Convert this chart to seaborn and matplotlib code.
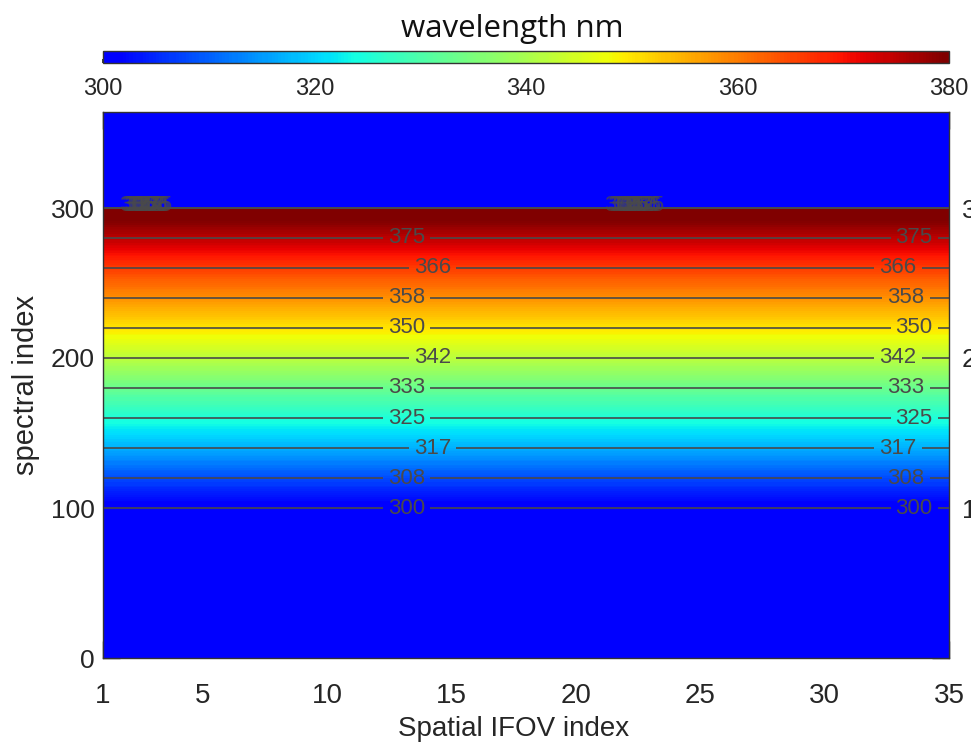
import numpy as np
import matplotlib
matplotlib.use("Agg")
import matplotlib.pyplot as plt
from matplotlib.colors import ListedColormap, Normalize
from matplotlib.cm import ScalarMappable
from matplotlib.ticker import FixedLocator, MultipleLocator
import seaborn as sns

# Spectral rows carrying a labelled isoline and the wavelength (nm) on each
contour_rows = [100, 120, 140, 160, 180, 200, 220, 240, 260, 280]
contour_wl = [300, 308, 317, 325, 333, 342, 350, 358, 366, 375]
band_top_row = 300      # last illuminated spectral row
band_top_wl = 383       # wavelength at the top of the band
no_signal = 0           # value outside the illuminated band
n_ifov = 35
spec_top = 364

x_ticks = [1, 5, 10, 15, 20, 25, 30, 35]
y_ticks = [0, 100, 200, 300]
cbar_ticks = [300, 320, 340, 360, 380]
cbar_minor = [310, 330, 350, 370]
wl_min, wl_max = 300, 380

sns.set_theme(style="ticks")
plt.rcParams["font.family"] = ["Liberation Sans", "DejaVu Sans"]
plt.rcParams["axes.linewidth"] = 1.0

# Wavelength map: spatial IFOV x spectral index
ifov = np.arange(1, n_ifov + 1)
rows = np.array([0] + contour_rows + [band_top_row, band_top_row, spec_top], float)
vals = np.array([no_signal] + contour_wl + [band_top_wl, no_signal, no_signal], float)
X, Y = np.meshgrid(ifov, rows)
Z = np.tile(vals[:, None], (1, n_ifov))

jet = plt.get_cmap("jet")
cmap = ListedColormap(jet(np.linspace(0.11, 1.0, 256)), name="rainbow_blue")
cmap.set_under(cmap(0.0))
cmap.set_over(cmap(1.0))

fig = plt.figure(figsize=(9.71, 7.47), dpi=100)
ax = fig.add_axes([103 / 971, 89 / 747, 846 / 971, 546 / 747])
cax = fig.add_axes([103 / 971, 684 / 747, 846 / 971, 12 / 747])

ax.contourf(X, Y, Z, levels=np.linspace(wl_min, wl_max, 161), cmap=cmap,
            extend="both")
line_gray = "#4a4a4a"

# isoline label columns: middle of the field and near the right edge
mid_x = [13.2, 13.2, 14.25, 13.2, 13.2, 14.25, 13.2, 13.2, 14.25, 13.2]
right_x = [33.6, 33.27, 32.95, 33.6, 33.27, 32.95, 33.6, 33.27, 32.95, 33.6]
for i, (lev, row) in enumerate(zip(contour_wl, contour_rows)):
    cs = ax.contour(X, Y, Z, levels=[lev], colors=line_gray, linewidths=1.2)
    cs.clabel(fmt="%d", fontsize=16, inline=True, inline_spacing=5,
              manual=[(mid_x[i], row), (right_x[i], row)])
    # labels crowded on the sharp upper edge of the band
    tops = cs.clabel(fmt="%d", fontsize=16, inline=False,
                     manual=[(2.4 + 0.07 * i, band_top_row),
                             (21.9 + 0.1 * i, band_top_row)])
    for t in cs.labelTexts[-2:]:
        t.set_alpha(0.75)
        t.set_y(t.get_position()[1] + 1.5)

ax.set_xlim(1, 35)
ax.set_ylim(0, spec_top)
ax.xaxis.set_major_locator(FixedLocator(x_ticks))
ax.xaxis.set_minor_locator(MultipleLocator(2.5))
ax.yaxis.set_major_locator(FixedLocator(y_ticks))
ax.yaxis.set_minor_locator(MultipleLocator(10))
ax.tick_params(which="both", direction="in", top=True, right=True,
               color="#222222", width=1.0)
ax.tick_params(which="major", length=12)
ax.tick_params(which="minor", length=7)
ax.tick_params(axis="x", which="major", labelsize=20, pad=18)
ax.tick_params(axis="y", which="major", labelsize=19, pad=6)
for sp in ax.spines.values():
    sp.set_color("#333333")

ax.set_xlabel("Spatial IFOV index", fontsize=20)
ax.xaxis.set_label_coords(0.485, -0.106)
ax.xaxis.label.set_verticalalignment("top")
ax.set_ylabel("spectral index", fontsize=21)
ax.yaxis.set_label_coords(-0.075, 0.5)

# right-hand spectral tick labels
sec = ax.secondary_yaxis("right")
sec.set_yticks(y_ticks[1:])
sec.tick_params(length=0, pad=9, labelsize=19)
sec.spines["right"].set_visible(False)

# colour bar across the top
cb = fig.colorbar(ScalarMappable(norm=Normalize(wl_min, wl_max), cmap=cmap),
                  cax=cax, orientation="horizontal")
cb.set_ticks(cbar_ticks)
cax.xaxis.set_minor_locator(FixedLocator(cbar_minor))
cax.tick_params(which="both", direction="in", length=3, color="#222222",
                labelsize=17, pad=11, bottom=True, top=False)
cb.outline.set_edgecolor("#333333")
cb.outline.set_linewidth(1.0)

fig.text(512 / 971, 710 / 747, "wavelength nm", ha="center", va="baseline",
         fontsize=22.5, family=["Open Sans", "DejaVu Sans"], color="#111111")

fig.savefig("out.png", dpi=100)
